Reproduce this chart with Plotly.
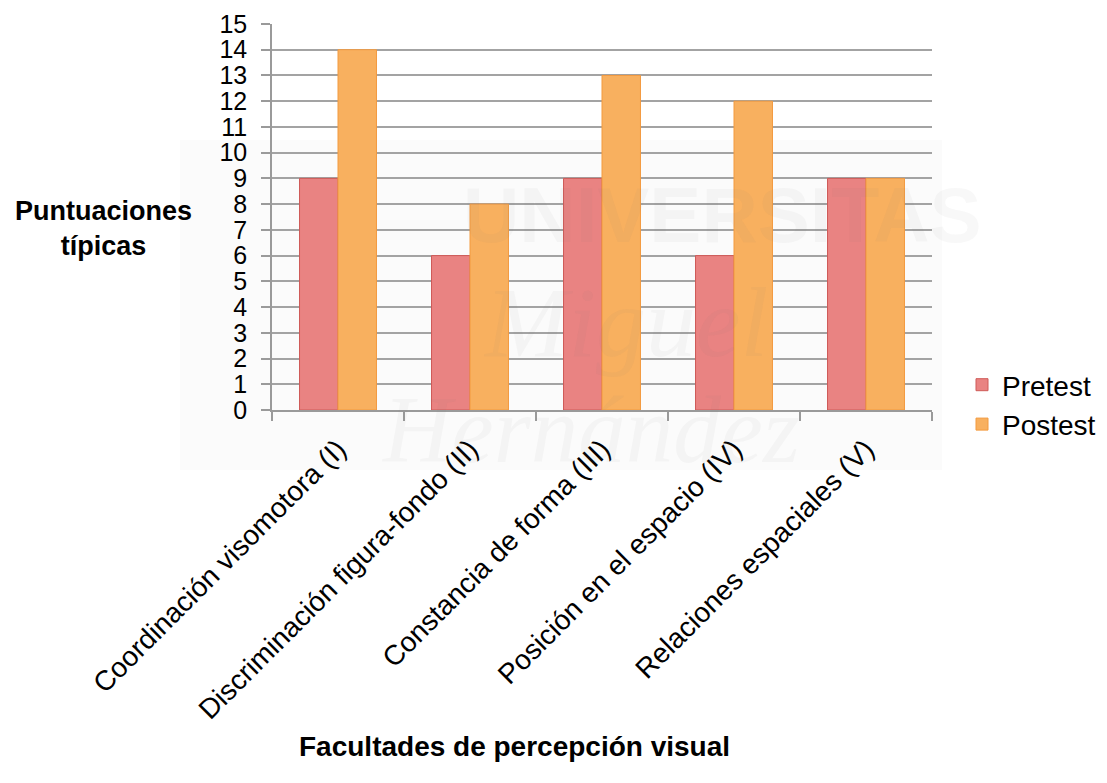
import plotly.graph_objects as go

categories = ["Coordinación visomotora (I)", "Discriminación figura-fondo (II)",
              "Constancia de forma (III)", "Posición en el espacio (IV)",
              "Relaciones espaciales (V)"]
pretest = [9, 6, 9, 6, 9]
postest = [14, 8, 13, 12, 9]
y_ticks = list(range(0, 16))

W, H = 1107, 783
L, R, T, B = 272, 175, 24, 373
FONT = "Liberation Sans, Arial, sans-serif"

fig = go.Figure()
fig.add_trace(go.Bar(x=categories, y=pretest, name="Pretest", legendgroup="a",
                     marker=dict(color="#e98382", line=dict(color="#cf5a58", width=1))))
fig.add_trace(go.Bar(x=categories, y=postest, name="Postest", legendgroup="b",
                     marker=dict(color="#f8b05f", line=dict(color="#f39a3f", width=1))))

def px2paper_x(px):
    return (px - L) / (W - L - R)

def px2paper_y(py):
    return (H - B - py) / (H - T - B)

annotations = [
    dict(text="<b>Puntuaciones<br>típicas</b>", x=px2paper_x(103), y=px2paper_y(228),
         xref="paper", yref="paper", showarrow=False, align="center",
         xanchor="center", yanchor="middle",
         font=dict(size=27, color="#000000", family=FONT)),
    dict(text="<b>Facultades de percepción visual</b>", x=px2paper_x(514), y=px2paper_y(746),
         xref="paper", yref="paper", showarrow=False, xanchor="center", yanchor="middle",
         font=dict(size=28, color="#000000", family=FONT)),
    # faint watermark
    dict(text="<b>UNIVERSITAS</b>", x=px2paper_x(722), y=px2paper_y(215),
         xref="paper", yref="paper", showarrow=False, xanchor="center", yanchor="middle",
         font=dict(size=78, color="rgba(120,120,120,0.05)", family="Liberation Sans Narrow, Liberation Sans, sans-serif")),
    dict(text="<i>Miguel</i>", x=px2paper_x(625), y=px2paper_y(322),
         xref="paper", yref="paper", showarrow=False, xanchor="center", yanchor="middle",
         font=dict(size=100, color="rgba(120,120,120,0.05)", family="Liberation Serif, serif")),
    dict(text="<i>Hernández</i>", x=px2paper_x(590), y=px2paper_y(430),
         xref="paper", yref="paper", showarrow=False, xanchor="center", yanchor="middle",
         font=dict(size=95, color="rgba(120,120,120,0.05)", family="Liberation Serif, serif")),
]

shapes = [
    dict(type="rect", xref="paper", yref="paper",
         x0=px2paper_x(180), x1=px2paper_x(942), y0=px2paper_y(470), y1=px2paper_y(140),
         fillcolor="rgba(200,200,200,0.07)", line=dict(width=0), layer="below"),
]

fig.update_layout(
    width=W, height=H,
    margin=dict(l=L, r=R, t=T, b=B, pad=0, autoexpand=False),
    paper_bgcolor="white", plot_bgcolor="rgba(0,0,0,0)",
    barmode="group", bargap=0.417, bargroupgap=0,
    font=dict(family=FONT, color="#000000"),
    showlegend=True,
    legend=dict(x=px2paper_x(962), y=px2paper_y(360), xanchor="left", yanchor="top",
                font=dict(size=28, family=FONT), tracegroupgap=18,
                traceorder="normal", bgcolor="rgba(0,0,0,0)", itemwidth=30),
    annotations=annotations,
    shapes=shapes,
)
fig.update_xaxes(
    type="category", tickangle=-45, tickfont=dict(size=28, family=FONT, color="#000000"),
    showline=True, linecolor="#9a9a9a", linewidth=1.5,
    ticks="outside", tickson="boundaries", ticklen=9, tickcolor="#9a9a9a", tickwidth=1.5,
    showgrid=False, zeroline=False, ticklabelstandoff=10,
)
fig.update_yaxes(
    range=[0, 15], tickvals=y_ticks, ticktext=[str(v) for v in y_ticks],
    tickfont=dict(size=25, family=FONT, color="#000000"),
    showline=True, linecolor="#9a9a9a", linewidth=1.5,
    ticks="outside", ticklen=9, tickcolor="#9a9a9a", tickwidth=1.5,
    showgrid=True, gridcolor="#a3a3a3", gridwidth=1.5, zeroline=False,
    ticklabelstandoff=9,
)

fig.write_html("out.html")
